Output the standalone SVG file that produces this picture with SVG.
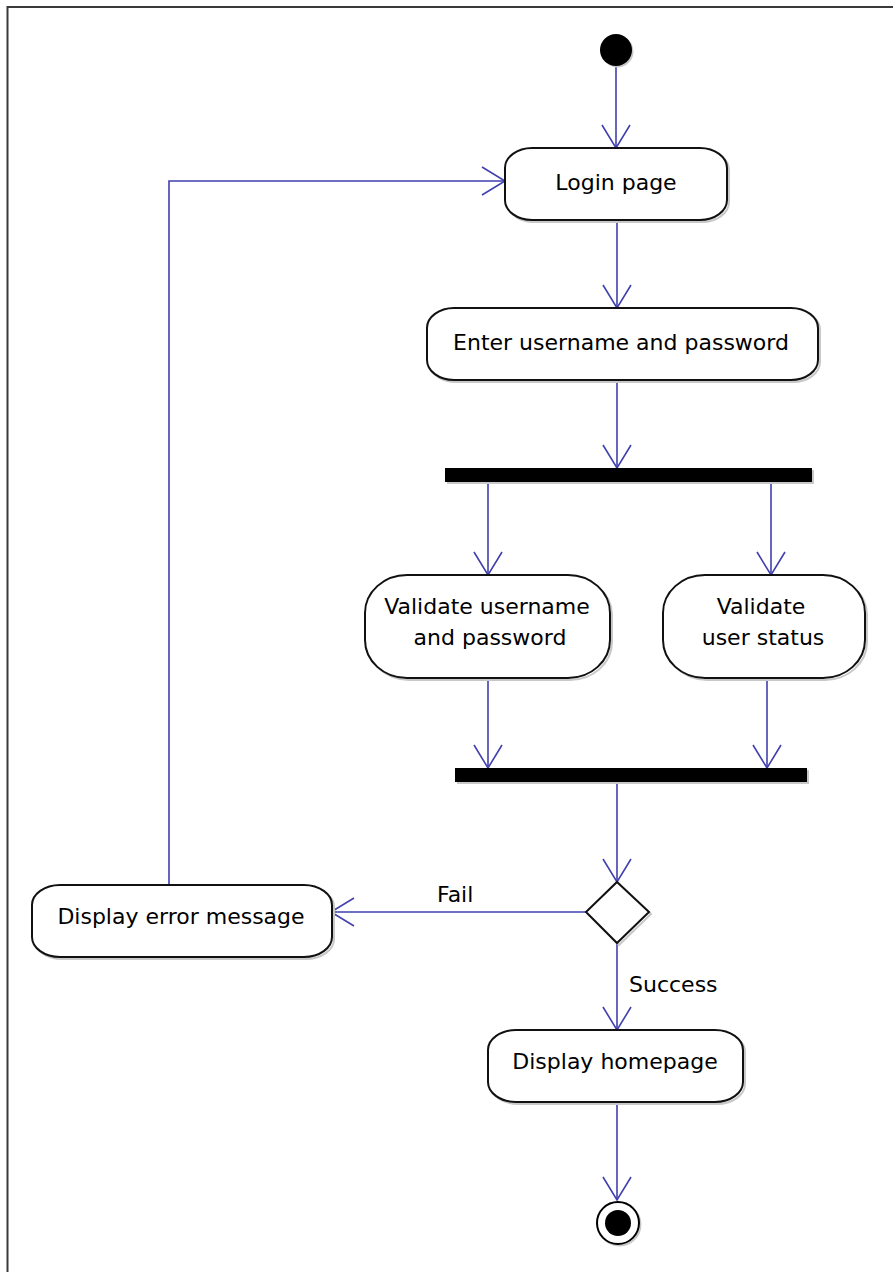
<svg xmlns="http://www.w3.org/2000/svg" width="893" height="1272" viewBox="0 0 893 1272">
  <style>
    .frame { fill: none; stroke: #3a3a3a; stroke-width: 2; }
    .act { fill: #ffffff; stroke: #111111; stroke-width: 2; }
    .shadow { fill: none; stroke: #c8c8c8; stroke-width: 2; }
    .bar { fill: #000000; }
    .lbl { font-family: "DejaVu Sans", "Liberation Sans", sans-serif; font-size: 22px; fill: #000000; }
    .mid { text-anchor: middle; }
    .flow { fill: none; stroke: #4040ae; stroke-width: 1.6; }
  </style>
  <defs>
    <marker id="open" markerUnits="userSpaceOnUse" viewBox="-26 -17 28 34" refX="0" refY="0" markerWidth="28" markerHeight="34" orient="auto">
      <path d="M-23,-14 L0,0 L-23,14" fill="none" stroke="#4040ae" stroke-width="1.6"/>
    </marker>
  </defs>

  <rect class="frame" x="7.5" y="7" width="900" height="1290"/>

  <!-- connectors -->
  <g id="connectors">
    <path class="flow" d="M616,64 L616,148" marker-end="url(#open)"/>
    <path class="flow" d="M617,220 L617,308" marker-end="url(#open)"/>
    <path class="flow" d="M617,380 L617,468" marker-end="url(#open)"/>
    <path class="flow" d="M488,482 L488,575" marker-end="url(#open)"/>
    <path class="flow" d="M771,482 L771,575" marker-end="url(#open)"/>
    <path class="flow" d="M488,678 L488,768" marker-end="url(#open)"/>
    <path class="flow" d="M767,678 L767,768" marker-end="url(#open)"/>
    <path class="flow" d="M617,782 L617,882" marker-end="url(#open)"/>
    <path class="flow" d="M586,912 L331,912" marker-end="url(#open)"/>
    <path class="flow" d="M617,943 L617,1030" marker-end="url(#open)"/>
    <path class="flow" d="M617,1102 L617,1200" marker-end="url(#open)"/>
    <path class="flow" d="M169,885 L169,181 L505,181" marker-end="url(#open)"/>
    <text class="lbl" x="437" y="902">Fail</text>
    <text class="lbl" x="629" y="992">Success</text>
  </g>

  <g id="start">
    <circle cx="617.5" cy="51.5" r="16" fill="#c8c8c8"/>
    <circle cx="616" cy="50" r="16" fill="#000000"/>
  </g>

  <g id="login">
    <rect class="shadow" x="507" y="150" width="222" height="72" rx="27" ry="20"/>
    <rect class="act" x="505" y="148" width="222" height="72" rx="27" ry="20"/>
    <text class="lbl mid" x="616" y="190">Login page</text>
  </g>

  <g id="enter">
    <rect class="shadow" x="429" y="310" width="391" height="72" rx="27" ry="20"/>
    <rect class="act" x="427" y="308" width="391" height="72" rx="27" ry="20"/>
    <text class="lbl mid" x="621" y="350">Enter username and password</text>
  </g>

  <g id="fork">
    <rect x="447" y="470" width="367" height="14" fill="#c8c8c8"/>
    <rect class="bar" x="445" y="468" width="367" height="14"/>
  </g>

  <g id="validate-credentials">
    <rect class="shadow" x="367" y="577" width="245" height="103" rx="42" ry="38"/>
    <rect class="act" x="365" y="575" width="245" height="103" rx="42" ry="38"/>
    <text class="lbl mid" x="487" y="614">Validate username</text>
    <text class="lbl mid" x="490" y="645">and password</text>
  </g>

  <g id="validate-status">
    <rect class="shadow" x="665" y="577" width="202" height="103" rx="42" ry="38"/>
    <rect class="act" x="663" y="575" width="202" height="103" rx="42" ry="38"/>
    <text class="lbl mid" x="761" y="614">Validate</text>
    <text class="lbl mid" x="763" y="645">user status</text>
  </g>

  <g id="join">
    <rect x="457" y="770" width="352" height="14" fill="#c8c8c8"/>
    <rect class="bar" x="455" y="768" width="352" height="14"/>
  </g>

  <g id="decision">
    <path class="shadow" d="M619,884 L651,914 L619,945 L588,914 Z"/>
    <path class="act" d="M617,882 L649,912 L617,943 L586,912 Z"/>
  </g>

  <g id="error">
    <rect class="shadow" x="34" y="887" width="300" height="72" rx="28" ry="20"/>
    <rect class="act" x="32" y="885" width="300" height="72" rx="28" ry="20"/>
    <text class="lbl mid" x="181" y="924">Display error message</text>
  </g>

  <g id="homepage">
    <rect class="shadow" x="490" y="1032" width="255" height="72" rx="28" ry="20"/>
    <rect class="act" x="488" y="1030" width="255" height="72" rx="28" ry="20"/>
    <text class="lbl mid" x="615" y="1069">Display homepage</text>
  </g>

  <g id="end">
    <circle cx="619.5" cy="1224.5" r="21" fill="none" stroke="#c8c8c8" stroke-width="2"/>
    <circle cx="618" cy="1223" r="21" fill="#ffffff" stroke="#000000" stroke-width="2"/>
    <circle cx="618" cy="1223" r="13" fill="#000000"/>
  </g>
</svg>
